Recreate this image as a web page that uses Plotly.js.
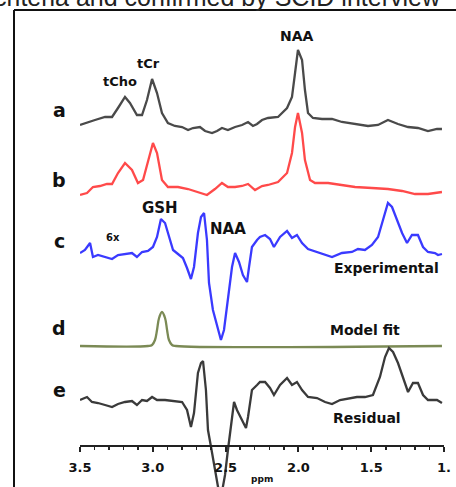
<!DOCTYPE html>
<html><head><meta charset="utf-8">
<script src="https://cdn.plot.ly/plotly-3.0.1.min.js"></script>
<style>html,body{margin:0;padding:0;background:#fff;}#chart{width:456px;height:487px;}</style>
</head><body><div id="chart"></div>
<script>
// ---- data (chemical shift in ppm, intensity in arbitrary units relative to each spectrum's baseline) ----
const ppmA = [3.500,3.445,3.397,3.328,3.280,3.239,3.191,3.157,3.109,3.074,3.040,3.005,2.971,2.937,2.896,2.848,2.799,2.758,2.724,2.676,2.641,2.593,2.559,2.525,2.484,2.435,2.387,2.346,2.312,2.284,2.250,2.209,2.140,2.078,2.044,2.023,2.003,1.975,1.955,1.934,1.900,1.838,1.769,1.701,1.611,1.522,1.453,1.385,1.316,1.247,1.179,1.110,1.048,1.014];
const intA = [5,8,10,13,13,22,33,27,15,15,30,51,37,17,7,4,3,0,2,3,-1,-3,-1,2,0,3,5,8,4,6,10,12,13,22,33,57,80,70,40,17,12,11,11,8,6,4,5,10,6,3,2,-1,1,1];

const ppmB = [3.500,3.452,3.411,3.363,3.315,3.280,3.239,3.191,3.143,3.102,3.067,3.033,2.999,2.971,2.937,2.896,2.827,2.758,2.690,2.628,2.573,2.525,2.484,2.435,2.387,2.346,2.298,2.250,2.209,2.140,2.078,2.044,2.023,2.003,1.975,1.955,1.920,1.886,1.796,1.701,1.611,1.495,1.385,1.288,1.199,1.110,1.014];
const intB = [-3,-1,5,6,8,8,19,29,22,9,12,32,49,39,12,5,5,3,0,-3,3,9,5,5,6,8,2,6,7,10,19,39,65,79,59,32,12,9,9,7,5,4,3,1,-2,-2,0];

const ppmC = [3.500,3.466,3.431,3.411,3.376,3.328,3.280,3.239,3.191,3.143,3.109,3.074,3.033,2.999,2.971,2.944,2.916,2.896,2.861,2.827,2.793,2.765,2.738,2.717,2.690,2.669,2.648,2.628,2.614,2.587,2.552,2.532,2.511,2.484,2.456,2.435,2.408,2.381,2.353,2.339,2.319,2.284,2.264,2.229,2.195,2.168,2.126,2.078,2.044,2.010,1.975,1.934,1.872,1.817,1.769,1.701,1.632,1.591,1.543,1.495,1.453,1.419,1.385,1.357,1.323,1.288,1.254,1.220,1.179,1.144,1.110,1.062,1.041,1.014];
const intC = [0,3,10,-4,-2,-4,-6,-2,-1,0,-4,1,2,6,16,34,30,20,3,-1,-5,-15,-26,-14,20,36,40,13,-30,-57,-75,-87,-77,-47,-14,0,-9,-22,-29,-14,6,13,16,18,14,6,16,22,15,18,10,4,1,-2,-4,0,1,4,3,8,16,33,50,46,33,20,10,18,18,6,1,0,-2,-1];

const ppmD = [3.500,3.033,3.005,2.985,2.971,2.957,2.937,2.916,2.902,2.889,2.868,2.841,1.014];
const intD = [0,0,1,6,16,28,34,28,16,6,1,0,0];

const ppmE = [3.500,3.452,3.418,3.376,3.328,3.280,3.239,3.191,3.143,3.109,3.074,3.040,3.005,2.971,2.916,2.848,2.799,2.765,2.738,2.717,2.690,2.669,2.655,2.635,2.621,2.600,2.573,2.552,2.525,2.504,2.484,2.463,2.442,2.422,2.387,2.360,2.346,2.319,2.284,2.264,2.229,2.195,2.168,2.126,2.078,2.044,2.010,1.975,1.934,1.872,1.817,1.769,1.714,1.646,1.598,1.543,1.488,1.440,1.405,1.378,1.350,1.316,1.282,1.247,1.213,1.179,1.144,1.110,1.048,1.014];
const intE = [0,3,-2,-3,-5,-7,-4,-2,-1,-5,0,-1,3,0,0,-1,-2,-10,-27,-13,27,37,39,10,-30,-47,-70,-87,-92,-75,-50,-23,-2,-10,-20,-28,-17,10,15,18,18,12,5,15,22,15,18,10,3,2,-2,-4,0,2,3,3,5,23,43,52,48,37,23,8,17,17,5,0,0,-3];

const majorTicks = [3.5, 3.0, 2.5, 2.0, 1.5, 1.0];
const majorTickText = ["3.5", "3.0", "2.5", "2.0", "1.5", "1."];
const minorTicks = [3.4,3.3,3.2,3.1,2.9,2.8,2.7,2.6,2.4,2.3,2.2,2.1,1.9,1.8,1.7,1.6,1.4,1.3,1.2,1.1];

// ---- layout constants ----
const W = 456, H = 487;
const base = {a:130, b:192, c:253, d:346, e:400}; // pixel rows of the spectrum baselines
const off = k => H - base[k];
const px = x => x / W;
const py = y => 1 - y / H;
const FONT = "DejaVu Sans";

function tr(x, v, k, color, shape) {
  return {x: x, y: v.map(d => d + off(k)), type: 'scatter', mode: 'lines',
    line: {color: color, width: 2.3, shape: shape || 'linear', smoothing: 1}, hoverinfo: 'skip'};
}

const data = [
  tr(ppmA, intA, 'a', '#4a4a4a'),
  tr(ppmB, intB, 'b', '#ff4a4a'),
  tr(ppmC, intC, 'c', '#3a3aff'),
  tr(ppmD, intD, 'd', '#7b8a55', 'spline'),
  tr(ppmE, intE, 'e', '#3a3a3a')
];

function lab(text, x, y, size, color) {
  return {text: text, x: px(x), y: py(y), xref: 'paper', yref: 'paper', showarrow: false,
    xanchor: 'center', yanchor: 'middle',
    font: {family: FONT, size: size, color: color || '#111', weight: 700}};
}

const annotations = [
  {text: "criteria and confirmed by SCID interview", x: px(443), y: py(13), xref: 'paper', yref: 'paper',
   showarrow: false, xanchor: 'right', yanchor: 'bottom', font: {family: "Liberation Sans", size: 25, color: '#222'}},
  lab("a", 59, 110, 19), lab("b", 59, 180, 19), lab("c", 59, 241, 19), lab("d", 59, 328, 19), lab("e", 59, 390, 19),
  lab("tCho", 120, 82, 13), lab("tCr", 148, 64, 13), lab("NAA", 297, 36, 14),
  lab("GSH", 160, 208, 15), lab("NAA", 228, 229, 15), lab("6x", 113, 237, 10),
  lab("Experimental", 386, 268, 14), lab("Model fit", 365, 330, 14), lab("Residual", 367, 418, 14),
  lab("ppm", 262, 479, 9)
];

const layout = {
  width: W, height: H, margin: {l: 0, r: 0, t: 0, b: 0},
  paper_bgcolor: '#fff', plot_bgcolor: 'rgba(0,0,0,0)', showlegend: false,
  xaxis: {domain: [80 / W, 444 / W], range: [3.5, 1.0], anchor: 'free', position: (H - 446) / H,
    showline: true, linecolor: '#222', linewidth: 2, showgrid: false, zeroline: false,
    tickmode: 'array', tickvals: majorTicks, ticktext: majorTickText,
    ticks: 'outside', ticklen: 5, tickwidth: 2, tickcolor: '#222', ticklabelstandoff: 4,
    tickfont: {family: FONT, size: 13, color: '#111', weight: 700},
    minor: {tickmode: 'array', tickvals: minorTicks, ticks: 'outside', ticklen: 3, tickwidth: 1.5, tickcolor: '#222'},
    fixedrange: true},
  yaxis: {domain: [0, 1], range: [0, H], visible: false, fixedrange: true},
  shapes: [
    {type: 'line', xref: 'paper', yref: 'paper', x0: px(14), x1: px(14), y0: 0, y1: py(10), line: {color: '#111', width: 2}},
    {type: 'line', xref: 'paper', yref: 'paper', x0: px(14), x1: 1, y0: py(10), y1: py(10), line: {color: '#111', width: 2}}
  ],
  annotations: annotations
};

Plotly.newPlot('chart', data, layout, {staticPlot: true, displayModeBar: false});
</script>
</body></html>
